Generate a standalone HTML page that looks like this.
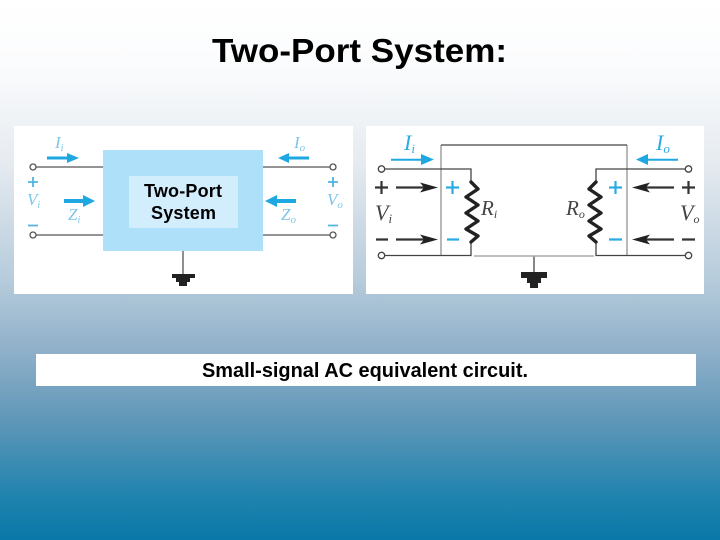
<!DOCTYPE html>
<html><head><meta charset="utf-8"><style>
html,body{margin:0;padding:0;width:720px;height:540px;overflow:hidden}
body{background:linear-gradient(180deg,#ffffff 0%,#fbfcfd 12%,#e6ebf0 30%,#b6cbdb 52%,#8fb0c9 65%,#5f97b8 78%,#1f83ae 92%,#0a78a8 100%)}
svg{position:absolute;left:0;top:0}
text{font-family:"Liberation Sans",sans-serif}
.it{font-family:"Liberation Serif",serif;font-style:italic}
.soft{filter:blur(0.35px)}
</style></head><body>
<svg width="720" height="540" viewBox="0 0 720 540" xmlns="http://www.w3.org/2000/svg">
<text x="212" y="62" font-size="33" font-weight="bold" textLength="295" lengthAdjust="spacingAndGlyphs" fill="#000">Two-Port System:</text>

<rect x="14" y="126" width="339" height="168" fill="#fff"/>
<rect x="366" y="126" width="338" height="168" fill="#fff"/>
<rect x="36" y="354" width="660" height="32" fill="#fff"/>
<text x="202" y="377" font-size="20" font-weight="bold" textLength="326" lengthAdjust="spacingAndGlyphs" fill="#000">Small-signal AC equivalent circuit.</text>

<!-- left panel -->
<g class="soft">
<g stroke="#555" stroke-width="1.300" fill="none">
<path d="M36 167H104M36 235H104M263 167H330M263 235H330M183 251V276"/>
</g>
<g stroke="#555" stroke-width="1.300" fill="#fff">
<circle cx="33" cy="167" r="3"/><circle cx="33" cy="235" r="3"/>
<circle cx="333" cy="167" r="3"/><circle cx="333" cy="235" r="3"/>
</g>
<rect x="103" y="150" width="160" height="101" fill="#aee0f9"/>
<rect x="129" y="176" width="109" height="52" fill="#d2eefd"/>
<text x="144" y="197" font-size="18" font-weight="bold" textLength="78" lengthAdjust="spacing" fill="#000">Two-Port</text>
<text x="151" y="219" font-size="18" font-weight="bold" textLength="65" lengthAdjust="spacing" fill="#000">System</text>
<path d="M172 274H195V278H190V282H187V286H179V282H176V278H172Z" fill="#222"/>
<g fill="#1ea7e0">
<path d="M47 156.500H67V153L79 158L67 163V159.500H47Z"/>
<path d="M64 199H83V195L95 201L83 207V203H64Z"/>
<path d="M309 156.500H289V153L278 158L289 163V159.500H309Z"/>
<path d="M296 199H277V195L265 201L277 207V203H296Z"/>
</g>
<g fill="#7cc6e8" font-size="17">
<text x="55" y="148" class="it">I<tspan font-size="10" dy="3">i</tspan></text>
<text x="294" y="148" class="it">I<tspan font-size="11" dy="3">o</tspan></text>
<text x="27" y="205" class="it">V<tspan font-size="10" dy="3">i</tspan></text>
<text x="327" y="205" class="it">V<tspan font-size="11" dy="3">o</tspan></text>
<text x="68" y="220" class="it">Z<tspan font-size="10" dy="3">i</tspan></text>
<text x="281" y="220" class="it">Z<tspan font-size="11" dy="3">o</tspan></text>
</g>
<g stroke="#4fb4e2" stroke-width="1.800" fill="none">
<path d="M28 182H38M33 177V187M28 225.500H38M328 182H338M333 177V187M328 225.500H338"/>
</g>
</g>

<!-- right panel -->
<g class="soft">
<path d="M441 145V255M627 145V255" stroke="#999" stroke-width="1.400" fill="none"/>
<g stroke="#444" stroke-width="1.300" fill="none">
<path d="M441 145H627"/>
<path d="M385 169H471V182M385 255.500H471V242"/>
<path d="M685 169H596V182M685 255.500H596V242"/>
<path d="M534 256V273"/>
</g>
<path d="M474 256H594" stroke="#aaa" stroke-width="1.500"/>
<g stroke="#444" stroke-width="1.300" fill="#fff">
<circle cx="381.500" cy="169" r="3.200"/><circle cx="381.500" cy="255.500" r="3.200"/>
<circle cx="688.500" cy="169" r="3.200"/><circle cx="688.500" cy="255.500" r="3.200"/>
</g>
<g stroke="#222" stroke-width="3.400" fill="none" stroke-linejoin="round" stroke-linecap="round">
<path d="M471 182L478 189L466 197L478 205L466 213L478 221L466 229L478 236L471 242"/>
<path d="M596 182L589 189L601 197L589 205L601 213L589 221L601 229L589 236L596 242"/>
</g>
<path d="M521 272H547V278H541V283H538V288H530V283H527V278H521Z" fill="#222"/>
<g stroke="#333" stroke-width="2.200">
<path d="M375 187.500H388M381.500 181V194M376 239.500H388M682 187.500H695M688.500 181V194M682 239.500H695"/>
<path d="M396 187.500H425M396 239.500H425M674 187.500H645M674 239.500H645"/>
</g>
<g fill="#222">
<path d="M420 182.500L438 187.500L420 192.500L424 187.500ZM420 234.500L438 239.500L420 244.500L424 239.500Z"/>
<path d="M650 182.500L632 187.500L650 192.500L646 187.500ZM650 234.500L632 239.500L650 244.500L646 239.500Z"/>
</g>
<g fill="#1ea7e0">
<path d="M391 158.700H421V154L434 159.500L421 165V160.700H391Z"/>
<path d="M678 158.700H648V154L636 159.500L648 165V160.700H678Z"/>
</g>
<g stroke="#2aace2" stroke-width="2.200">
<path d="M446 187.500H459M452.500 181V194M447 239.500H459M609 187.500H622M615.500 181V194M609 239.500H622"/>
</g>
<g font-size="22" fill="#444">
<text x="404" y="150" fill="#2aace2" class="it">I<tspan font-size="13" dy="3">i</tspan></text>
<text x="656" y="150" fill="#2aace2" class="it">I<tspan font-size="13" dy="3">o</tspan></text>
<text x="375" y="220" class="it">V<tspan font-size="13" dy="3">i</tspan></text>
<text x="680" y="220" class="it">V<tspan font-size="12" dy="3">o</tspan></text>
<text x="481" y="215" font-size="21" class="it">R<tspan font-size="12" dy="3">i</tspan></text>
<text x="566" y="215" font-size="21" class="it">R<tspan font-size="12" dy="3">o</tspan></text>
</g>
</g>
</svg>
</body></html>
